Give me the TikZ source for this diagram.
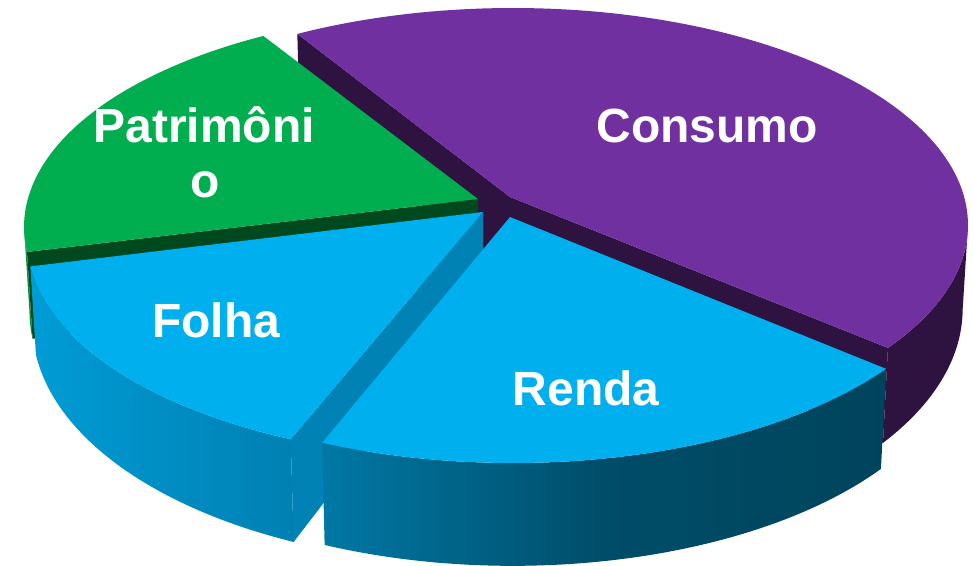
\documentclass[tikz,border=0pt]{standalone}
\usepackage{fontspec}
\setmainfont{Liberation Sans}
\definecolor{purpTop}{HTML}{7030A0}
\definecolor{purpWall}{HTML}{2E1341}
\definecolor{grnTop}{HTML}{00AD4F}
\definecolor{grnWall}{HTML}{00491F}
\definecolor{grnSide}{HTML}{0A8F3A}
\definecolor{bluTop}{HTML}{00B0EE}
\definecolor{bluCut}{HTML}{0082B4}
\definecolor{folL}{HTML}{009CD6}
\definecolor{folR}{HTML}{0080B2}
\definecolor{renL}{HTML}{0078A5}
\definecolor{renM}{HTML}{004D69}
\definecolor{renR}{HTML}{00445C}
\begin{document}
\begin{tikzpicture}[x=1pt,y=-1pt,
  declare function={
    ph(\y)=\sHa+\sHb*(\y-348);
    ptx(\t)=\sCx+\sRx*cos(\t);
    pty(\t)=\sCy+\sRy*sin(\t);
    pbx(\t)=ptx(\t)+(500-ptx(\t))/7400*ph(pty(\t));
    pby(\t)=pty(\t)+ph(pty(\t));
  },
  lbl/.style={text=white, font=\bfseries\fontsize{48}{55}\selectfont, inner sep=0pt, anchor=base, align=center}
]
\useasboundingbox (0,0) rectangle (974,565);

% ---------- Consumo (purple) ----------
\def\sCx{513}\def\sCy{225}\def\sRx{455}\def\sRy{217}\def\sHa{95}\def\sHb{0.085}
\coordinate (pA) at (510,197);
\coordinate (pAb) at ({510+(500-510)/7400*ph(197)},{197+ph(197)});
\fill[purpWall] plot[domain=0:34.5,samples=40] ({ptx(\x)},{pty(\x)})
   -- plot[domain=34.5:0,samples=40] ({pbx(\x)},{pby(\x)}) -- cycle;
\fill[purpWall] (pA) -- ({ptx(-118.3)},{pty(-118.3)}) -- ({pbx(-118.3)},{pby(-118.3)}) -- (pAb) -- cycle;
\fill[purpWall] (pA) -- ({ptx(34.5)},{pty(34.5)}) -- ({pbx(34.5)},{pby(34.5)}) -- (pAb) -- cycle;
\fill[purpTop] (pA) -- plot[domain=-118.3:34.5,samples=120] ({ptx(\x)},{pty(\x)}) -- cycle;

% ---------- Patrimonio (green) ----------
\def\sCx{479}\def\sCy{227}\def\sRx{455}\def\sRy{217}
\coordinate (gA) at (478,199);
\coordinate (gAb) at ({478+(500-478)/7400*ph(199)},{199+ph(199)});
\fill[grnSide] plot[domain=173.4:180,samples=10] ({ptx(\x)},{pty(\x)})
   -- plot[domain=180:173.4,samples=10] ({pbx(\x)},{pby(\x)}) -- cycle;
\fill[grnWall] (gA) -- ({ptx(173.4)},{pty(173.4)}) -- ({pbx(173.4)},{pby(173.4)}) -- (gAb) -- cycle;
\fill[grnTop] (gA) -- plot[domain=173.4:241.7,samples=60] ({ptx(\x)},{pty(\x)}) -- cycle;

% ---------- Folha (blue, left) ----------
\def\sCx{485}\def\sCy{240}\def\sRx{458}\def\sRy{220}
\coordinate (fA) at (483,212);
\coordinate (fAb) at ({483+(500-483)/7400*ph(212)},{212+ph(212)});
\shade[left color=folL, right color=folR] plot[domain=115.1:173.1,samples=50] ({ptx(\x)},{pty(\x)})
   -- plot[domain=173.1:115.1,samples=50] ({pbx(\x)},{pby(\x)}) -- cycle;
\fill[bluCut] (fA) -- ({ptx(115.1)},{pty(115.1)}) -- ({pbx(115.1)},{pby(115.1)}) -- (fAb) -- cycle;
\fill[bluTop] (fA) -- plot[domain=115.1:173.1,samples=50] ({ptx(\x)},{pty(\x)}) -- cycle;

% ---------- Renda (blue, right) ----------
\def\sCx{513}\def\sCy{243}\def\sRx{455}\def\sRy{220}\def\sHa{99.4}\def\sHb{0.03}
\coordinate (rA) at (510,217);
\shade[left color=renL, right color=renR, middle color=renM] plot[domain=34.9:114.8,samples=60] ({ptx(\x)},{pty(\x)})
   -- plot[domain=114.8:34.9,samples=60] ({pbx(\x)},{pby(\x)}) -- cycle;
\fill[bluTop] (rA) -- plot[domain=34.9:114.8,samples=60] ({ptx(\x)},{pty(\x)}) -- cycle;

% ---------- labels ----------
\node[lbl] (lcons) at (707,142) {Consumo};
\node[lbl] (lrenda) at (586,405) {Renda};
\node[lbl] (lfolha) at (216,337) {Folha};
\node[lbl] (lpat1) at (204,142) {Patrimôni};
\node[lbl] (lpat2) at (205,197) {o};
\end{tikzpicture}
\end{document}
